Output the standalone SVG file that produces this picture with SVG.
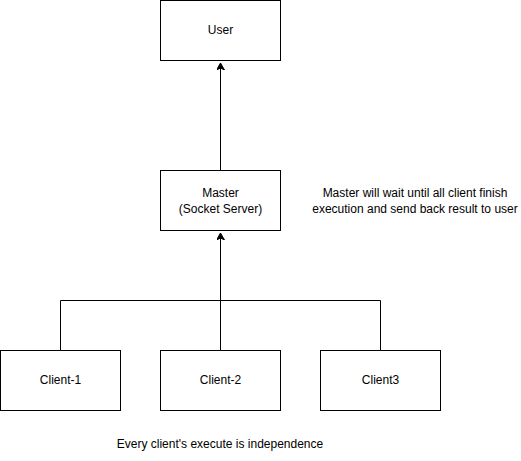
<svg xmlns="http://www.w3.org/2000/svg" width="521" height="461" viewBox="0 0 521 461">
<style>
.box{fill:#fff;stroke:#000;stroke-width:1}
.t{font-family:"Liberation Sans",Arial,sans-serif;font-size:12px;fill:#000;text-anchor:middle}
.edge{fill:none;stroke:#000;stroke-width:1}
</style>
<defs>
<marker id="arr" markerWidth="10" markerHeight="10" refX="7" refY="4" orient="auto" markerUnits="userSpaceOnUse">
<path d="M0,0 L7,4 L0,8 L2,4 Z" fill="#000" stroke="#000" stroke-width="1"/>
</marker>
</defs>
<rect width="521" height="461" fill="#fff"/>
<g id="connectors">
<path class="edge" d="M220.5,170.5 L220.5,63" marker-end="url(#arr)"/>
<path class="edge" d="M60.5,350.5 L60.5,300.5 L220.5,300.5 L220.5,233" marker-end="url(#arr)"/>
<path class="edge" d="M220.5,350.5 L220.5,300.5"/>
<path class="edge" d="M380.5,350.5 L380.5,300.5 L220.5,300.5"/>
</g>
<g id="user"><rect class="box" x="160.5" y="0.5" width="120" height="60"/><text class="t" x="220.5" y="34">User</text></g>
<g id="master"><rect class="box" x="160.5" y="170.5" width="120" height="60"/><text class="t" x="220.5" y="197">Master</text><text class="t" x="220.5" y="213">(Socket Server)</text></g>
<g id="client1"><rect class="box" x="0.5" y="350.5" width="120" height="60"/><text class="t" x="60.5" y="384">Client-1</text></g>
<g id="client2"><rect class="box" x="160.5" y="350.5" width="120" height="60"/><text class="t" x="220.5" y="384">Client-2</text></g>
<g id="client3"><rect class="box" x="320.5" y="350.5" width="120" height="60"/><text class="t" x="380.5" y="384">Client3</text></g>
<g id="note1"><text class="t" x="415" y="197">Master will wait until all client finish</text><text class="t" x="415" y="213">execution and send back result to user</text></g>
<g id="note2"><text class="t" x="220" y="448">Every client's execute is independence</text></g>
</svg>
